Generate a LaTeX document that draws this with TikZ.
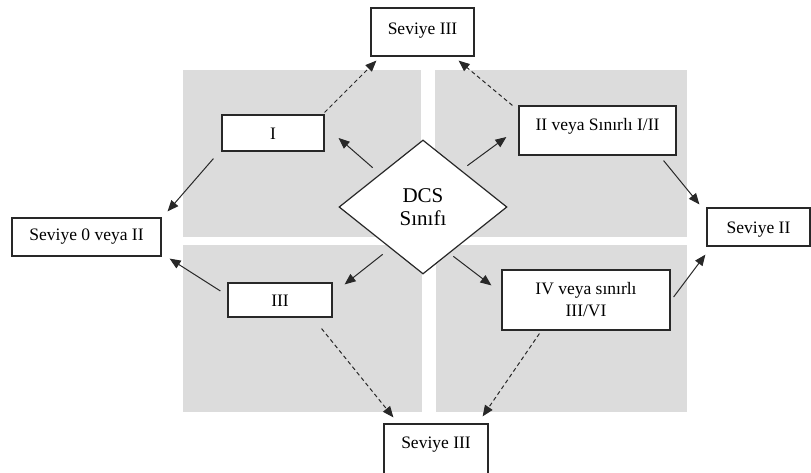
\documentclass[tikz,border=0pt]{standalone}
\usepackage{fontspec}
\setmainfont{Liberation Serif}
\usetikzlibrary{shapes.geometric,arrows.meta}
\definecolor{panel}{RGB}{220,220,220}
\definecolor{ink}{RGB}{40,40,40}
\tikzset{
  box/.style={draw=ink, line width=1.2pt, fill=white, inner xsep=0pt, inner ysep=0pt,
    font=\fontsize{17.5}{22}\selectfont, align=center},
  arr/.style={draw=ink, line width=1pt, -{Triangle[length=11pt,width=9pt]}},
  darr/.style={arr, dash pattern=on 4pt off 3pt},
  panelbox/.style={fill=panel, draw=none}
}
\begin{document}
\begin{tikzpicture}[x=1pt,y=-1pt]
\useasboundingbox (0,0) rectangle (811,472);
\clip (0,0) rectangle (811,472);
% background panels
\fill[panelbox] (183,70) rectangle (421,237);
\fill[panelbox] (435,70) rectangle (687,237);
\fill[panelbox] (183,245) rectangle (422,412);
\fill[panelbox] (436,245) rectangle (687,412);
% nodes
\node[box, minimum width=103pt, text height=26pt, text depth=22pt] (top3) at (422.5,32) {Seviye III};
\node[box, minimum width=102pt, text height=24pt, text depth=12pt] (nI) at (273,133) {I};
\node[box, minimum width=157pt, text height=24pt, text depth=25pt] (nII) at (597.5,130.5) {II veya Sınırlı I/II};
\node[draw=ink, line width=1.2pt, fill=white, shape=diamond, inner sep=0pt,
      minimum width=168pt, minimum height=134pt, align=center,
      font=\fontsize{21}{23.5}\selectfont] (dcs) at (423,207) {DCS\\Sınıfı};
\node[box, minimum width=149pt, text height=22pt, text depth=16pt] (s0) at (86.5,237) {Seviye 0 veya II};
\node[box, minimum width=104pt, text height=23pt, text depth=11pt] (nIII) at (280,300) {III};
\node[box, minimum width=168pt, minimum height=60pt] (nIV) at (586,300) {IV veya sınırlı\\III/VI};
\node[box, minimum width=103pt, text height=25pt, text depth=13pt] (s2) at (758.5,227) {Seviye II};
\node[box, minimum width=104pt, text height=24pt, text depth=28pt] (bot3) at (436,450) {Seviye III};
% connectors
\draw[arr] ([shift={(-8,7)}]nI.south west) -- ([shift={(6,-6)}]s0.north east);
\draw[arr] ([shift={(-8,-5.5)}]dcs.north west) -- ([shift={(14,5)}]nI.east);
\draw[arr] ([shift={(2,-7.5)}]dcs.north east) -- ([shift={(-12,6.5)}]nII.west);
\draw[darr] ([shift={(0,-2)}]nI.north east) -- ([shift={(6,4)}]top3.south west);
\draw[darr] ([shift={(-6,0)}]nII.north west) -- ([shift={(-16,4)}]top3.south east);
\draw[arr] ([shift={(-13,5)}]nII.south east) -- ([shift={(-7,-3)}]s2.north west);
\draw[arr] ([shift={(2,13.5)}]dcs.south west) -- ([shift={(12,2)}]nIII.north east);
\draw[arr] ([shift={(-7,-9)}]nIII.west) -- ([shift={(8,2)}]s0.south east);
\draw[arr] ([shift={(-12,15.5)}]dcs.south east) -- ([shift={(-10,16)}]nIV.north west);
\draw[arr] ([shift={(3,-3)}]nIV.east) -- ([shift={(-1,8)}]s2.south west);
\draw[darr] ([shift={(-11,11)}]nIII.south east) -- ([shift={(10,-6)}]bot3.north west);
\draw[darr] ([shift={(38,3)}]nIV.south west) -- ([shift={(-6,-7)}]bot3.north east);
\end{tikzpicture}
\end{document}
